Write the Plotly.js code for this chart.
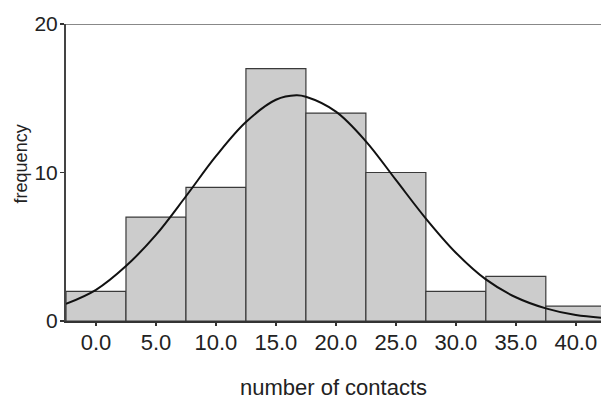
<!DOCTYPE html>
<html>
<head>
<meta charset="utf-8">
<script src="https://cdn.plot.ly/plotly-3.0.1.min.js"></script>
<style>html,body{margin:0;padding:0;background:#fff;}#chart{width:601px;height:400px;}</style>
</head>
<body>
<div id="chart"></div>
<script>
// Histogram bins (centres) and frequencies
var binCenters = [0, 5, 10, 15, 20, 25, 30, 35, 40];
var frequencies = [2, 7, 9, 17, 14, 10, 2, 3, 1];
// Fitted normal curve
var curveX = [-2.5, 0, 2.5, 5, 7.5, 10, 12.5, 15, 16.7, 17.5, 20, 22.5, 25, 27.5, 30, 32.5, 35, 37.5, 40, 42.5];
var curveY = [1.15, 2.1, 3.7, 5.8, 8.4, 11.1, 13.4, 14.9, 15.2, 15.1, 14.1, 12.1, 9.5, 6.9, 4.6, 2.8, 1.6, 0.85, 0.4, 0.2];
var xTickVals = [0, 5, 10, 15, 20, 25, 30, 35, 40];
var xTickText = ['0.0', '5.0', '10.0', '15.0', '20.0', '25.0', '30.0', '35.0', '40.0'];
var yTickVals = [0, 10, 20];

var traces = [
  {
    type: 'bar',
    x: binCenters,
    y: frequencies,
    width: 5,
    marker: {color: '#cccccc', line: {color: '#3a3a3a', width: 1.2}},
    hoverinfo: 'skip'
  },
  {
    type: 'scatter',
    mode: 'lines',
    x: curveX,
    y: curveY,
    line: {color: '#111111', width: 2, shape: 'spline', smoothing: 1},
    hoverinfo: 'skip'
  }
];

var layout = {
  width: 601,
  height: 400,
  margin: {l: 66, r: 0, t: 24, b: 79},
  paper_bgcolor: '#ffffff',
  plot_bgcolor: '#ffffff',
  showlegend: false,
  bargap: 0,
  font: {family: 'Liberation Sans, Arial, sans-serif', color: '#222222'},
  xaxis: {
    range: [-2.5, 42.1],
    tickvals: xTickVals,
    ticktext: xTickText,
    ticks: 'outside',
    ticklen: 3,
    tickwidth: 1.5,
    tickcolor: '#333333',
    tickfont: {size: 22, color: '#222222'},
    showgrid: false,
    zeroline: false,
    showline: true,
    linecolor: '#333333',
    linewidth: 2,
    ticklabelstandoff: -2,
    title: {text: 'number of contacts', font: {size: 22, color: '#222222'}, standoff: 36}
  },
  yaxis: {
    range: [0, 20],
    tickvals: yTickVals,
    ticks: 'outside',
    ticklen: 4,
    tickwidth: 1.5,
    tickcolor: '#333333',
    tickfont: {size: 21, color: '#222222'},
    showgrid: false,
    zeroline: false,
    showline: true,
    linecolor: '#444444',
    linewidth: 2,
    ticklabelstandoff: -2
  },
  annotations: [
    {text: 'frequency', xref: 'paper', yref: 'paper', x: -0.085, y: 0.529,
     xanchor: 'center', yanchor: 'middle', textangle: -90, showarrow: false,
     font: {size: 18, color: '#222222'}}
  ],
  shapes: [
    {type: 'line', xref: 'paper', yref: 'y', x0: 0, x1: 1, y0: 20, y1: 20,
     line: {color: '#888888', width: 2}}
  ]
};

Plotly.newPlot('chart', traces, layout, {staticPlot: true, displayModeBar: false});
</script>
</body>
</html>
